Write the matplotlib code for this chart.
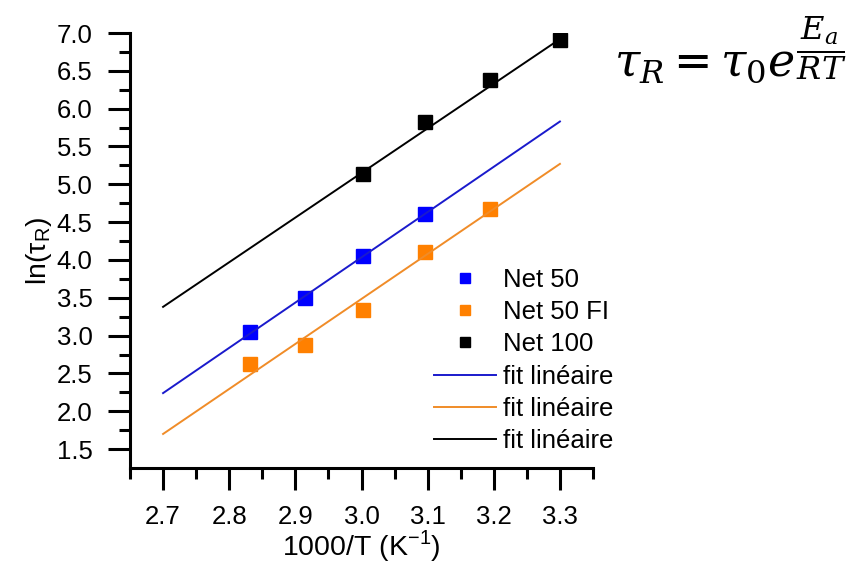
import numpy as np
import matplotlib.pyplot as plt

plt.rcParams['font.family'] = ['Liberation Sans', 'DejaVu Sans']

# 1000/T values (K^-1) and ln(tau_R)
x_net50 = [2.831, 2.915, 3.002, 3.096]
y_net50 = [3.05, 3.50, 4.05, 4.61]

x_net50fl = [2.831, 2.915, 3.002, 3.096, 3.195]
y_net50fl = [2.63, 2.87, 3.34, 4.10, 4.68]

x_net100 = [3.002, 3.096, 3.195, 3.300]
y_net100 = [5.13, 5.82, 6.38, 6.91]

# fitted lines (end points)
x_fit = [2.7, 3.3]
y_fit50 = [2.24, 5.83]
y_fit50fl = [1.70, 5.27]
y_fit100 = [3.38, 6.92]

labels = ['Net 50', 'Net 50 FI', 'Net 100']
fit_label = 'fit linéaire'

fig = plt.figure(figsize=(8.46, 5.65), dpi=100)
ax = fig.add_axes([130 / 846, 1 - 468 / 565, (593 - 130) / 846, (468 - 33) / 565])

ms = 9.5
h1, = ax.plot(x_net50, y_net50, 's', color='#0000ff', ms=ms, label=labels[0])
h2, = ax.plot(x_net50fl, y_net50fl, 's', color='#ff8000', ms=ms, label=labels[1])
h3, = ax.plot(x_net100, y_net100, 's', color='black', ms=ms, label=labels[2])
f1, = ax.plot(x_fit, y_fit50, '-', color='#1a1acc', lw=1.4, label=fit_label)
f2, = ax.plot(x_fit, y_fit50fl, '-', color='#f08c28', lw=1.4, label=fit_label)
f3, = ax.plot(x_fit, y_fit100, '-', color='black', lw=1.4, label=fit_label)

ax.set_xlim(2.65, 3.35)
ax.set_ylim(1.25, 7.0)
ax.set_xticks(np.arange(2.7, 3.31, 0.1))
ax.set_yticks(np.arange(1.5, 7.01, 0.5))
ax.set_xticks(np.arange(2.65, 3.36, 0.1), minor=True)
ax.set_yticks(np.arange(1.75, 7.0, 0.5), minor=True)
ax.xaxis.set_major_formatter(plt.FormatStrFormatter('%.1f'))
ax.yaxis.set_major_formatter(plt.FormatStrFormatter('%.1f'))

for s in ['top', 'right']:
    ax.spines[s].set_visible(False)
for s in ['left', 'bottom']:
    ax.spines[s].set_linewidth(2.2)
ax.tick_params(which='major', direction='out', length=16, width=2.2,
               labelsize=18.5, pad=11)
ax.tick_params(which='minor', direction='out', length=8, width=2.2)

ax.set_xlabel(r'1000/T (K$^{\mathregular{-1}}$)', fontsize=20.5, labelpad=-1)
ax.set_ylabel(r'ln($\mathregular{\tau_R}$)', fontsize=20.5, labelpad=2)

leg = ax.legend(handles=[h1, h2, h3, f1, f2, f3], loc='upper left',
                bbox_to_anchor=(434 / 846, 1 - 268 / 565),
                bbox_transform=fig.transFigure, frameon=False,
                fontsize=18.5, handlelength=2.4, handletextpad=0.3,
                labelspacing=0.32, borderpad=0, borderaxespad=0,
                markerscale=0.75)

fig.text(730 / 846, 1 - 76 / 565, r'$\tau_R = \tau_0 e^{\dfrac{E_a}{RT}}$',
         fontsize=33, ha='center', va='baseline', math_fontfamily='dejavuserif')

fig.savefig('out.png', dpi=100)
